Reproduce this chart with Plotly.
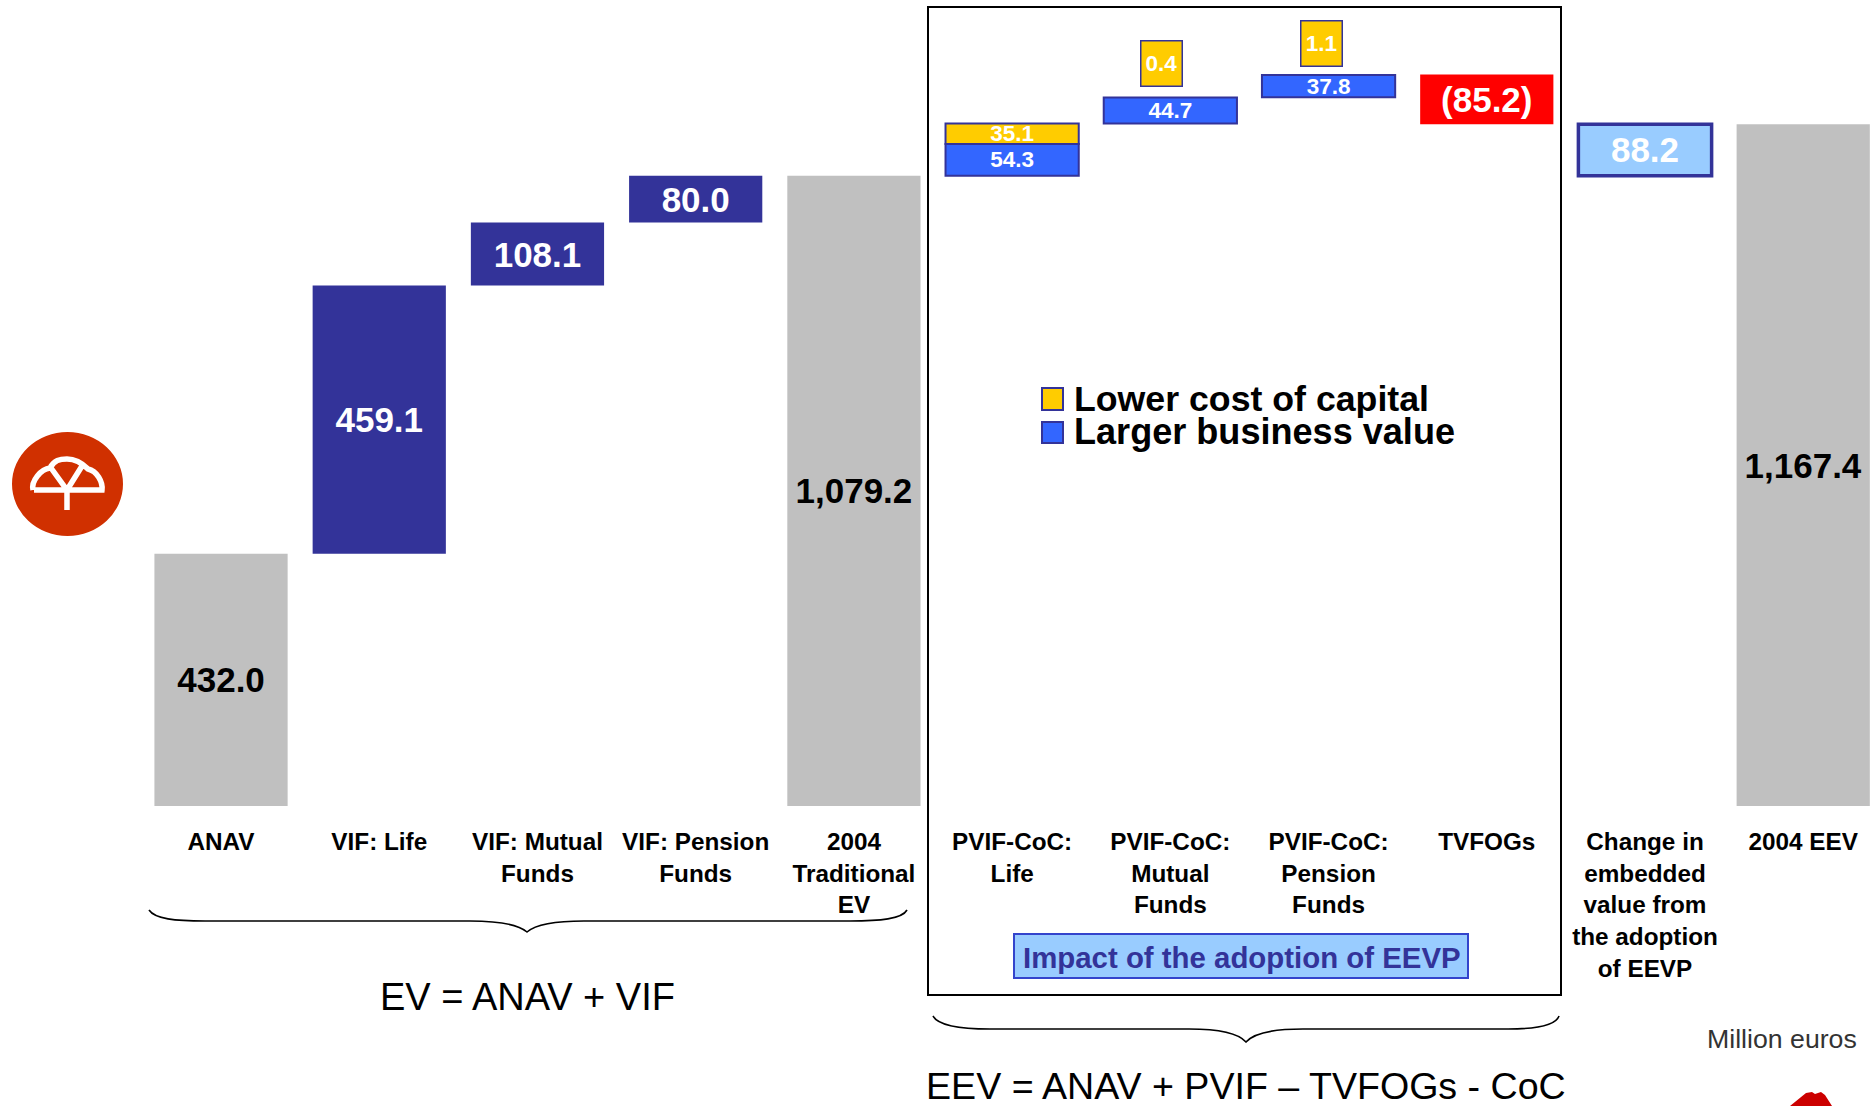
import plotly.graph_objects as go

# Embedded value bridge, million euros
categories = [
    "ANAV", "VIF: Life", "VIF: Mutual<br>Funds", "VIF: Pension<br>Funds",
    "2004<br>Traditional<br>EV", "PVIF-CoC:<br>Life", "PVIF-CoC:<br>Mutual<br>Funds",
    "PVIF-CoC:<br>Pension<br>Funds", "TVFOGs", "Change in<br>embedded<br>value from<br>the adoption<br>of EEVP",
    "2004 EEV",
]

total_cats = [categories[0], categories[4], categories[10]]
total_vals = [432.0, 1079.2, 1167.4]

vif_cats = categories[1:4]
vif_vals = [459.1, 108.1, 80.0]
vif_base = [432.0, 891.1, 999.2]

business_cats = categories[5:8]
business_vals = [54.3, 44.7, 37.8]
business_base = [1079.2, 1168.6, 1213.7]

coc_cats = categories[5:8]
coc_vals = [35.1, 0.4, 1.1]
coc_base = [1133.5, 1213.3, 1251.5]

tvfog_val = 85.2
tvfog_base = 1167.4

change_val = 88.2
change_base = 1079.2

W, H = 1876, 1106
NAVY, BLUE, GOLD, GREY, RED, SKY = "#333399", "#3366FF", "#FFCC00", "#C0C0C0", "#FF0000", "#99CCFF"
FONT = "Liberation Sans"


def px(x):
    return x / W


def py(y):
    return 1 - y / H


def bar(cats, vals, base, fill, text, text_color, size, line_color=None, line_width=0):
    return go.Bar(
        x=cats, y=vals, base=base, width=0.842, text=text,
        textposition="inside", insidetextanchor="middle", constraintext="none",
        textangle=0, cliponaxis=False, showlegend=False, hoverinfo="skip",
        textfont=dict(family=FONT, size=size, color=text_color, weight=700),
        marker=dict(color=fill, line=dict(color=line_color or fill, width=line_width)),
    )


fig = go.Figure()
fig.add_trace(bar(total_cats, total_vals, [0, 0, 0], GREY,
                  ["432.0", "1,079.2", "1,167.4"], "black", 35))
fig.add_trace(bar(vif_cats, vif_vals, vif_base, NAVY,
                  ["459.1", "108.1", "80.0"], "white", 35))
fig.add_trace(bar(coc_cats, coc_vals, coc_base, GOLD,
                  ["35.1", "", ""], "white", 22.5, NAVY, [2, 0, 0]))
fig.add_trace(bar(business_cats, business_vals, business_base, BLUE,
                  ["54.3", "44.7", "37.8"], "white", 22.5, NAVY, 2))
fig.add_trace(bar([categories[8]], [tvfog_val], [tvfog_base], RED, ["(85.2)"], "white", 35))
fig.add_trace(bar([categories[9]], [change_val], [change_base], SKY, ["88.2"], "white", 35, NAVY, 3.5))

shapes = []


def paper_path(points):
    # points: list of (command, px, py, ...) in figure pixels
    out = []
    for cmd, *vals in points:
        coords = [f"{px(vals[i]):.5f},{py(vals[i + 1]):.5f}" for i in range(0, len(vals), 2)]
        out.append(cmd + " " + " ".join(coords))
    return " ".join(out)


def add_path(points, line=None, fill=None, width=2):
    shapes.append(dict(
        type="path", xref="paper", yref="paper", layer="above",
        path=paper_path(points),
        line=dict(color=line or "rgba(0,0,0,0)", width=width if line else 0),
        fillcolor=fill or "rgba(0,0,0,0)",
    ))


def add_rect(x0, y0, x1, y1, fill=None, line=None, width=1, kind="rect"):
    shapes.append(dict(
        type=kind, xref="paper", yref="paper", layer="above",
        x0=px(x0), x1=px(x1), y0=py(y0), y1=py(y1),
        fillcolor=fill or "rgba(0,0,0,0)",
        line=dict(color=line or "rgba(0,0,0,0)", width=width if line else 0),
    ))


# Frame around the EEVP adoption steps
add_rect(928, 7, 1561, 995, line="black", width=2)
# Caption box for the framed steps
add_rect(1014, 934, 1468, 978, fill=SKY, line="#3344CC", width=2)
# Legend swatches
add_rect(1042, 388, 1063, 410, fill=GOLD, line=NAVY, width=2)
add_rect(1042, 422, 1063, 443, fill=BLUE, line=NAVY, width=2)

# Braces below the axis labels
add_path([("M", 149, 910), ("C", 155, 919, 175, 921, 205, 921), ("L", 470, 921),
          ("C", 505, 921, 520, 926, 527, 932), ("C", 534, 926, 549, 921, 584, 921),
          ("L", 850, 921), ("C", 880, 921, 902, 919, 907, 910)], line="black", width=1.6)
add_path([("M", 933, 1016), ("C", 938, 1025, 958, 1029, 990, 1029), ("L", 1189, 1029),
          ("C", 1224, 1029, 1239, 1034, 1246, 1042), ("C", 1253, 1034, 1268, 1029, 1303, 1029),
          ("L", 1508, 1029), ("C", 1538, 1029, 1556, 1025, 1559, 1016)], line="black", width=1.6)

# Company emblem: red disc with a white umbrella
add_rect(12, 432, 123, 536, fill="#D03000", kind="circle")
add_path([("M", 67, 510), ("L", 67, 490), ("M", 34, 490), ("L", 102, 490),
          ("C", 103, 482, 97, 471, 88, 469), ("C", 82, 463, 74, 459, 67, 459),
          ("C", 60, 459, 54, 460, 50, 468), ("C", 41, 469, 31, 481, 33, 490),
          ("M", 51, 468), ("L", 67, 490), ("L", 82, 466)], line="white", width=5.5)
# Part of a second emblem running off the lower edge
add_path([("M", 1790, 1106), ("L", 1806, 1093), ("L", 1812, 1092), ("L", 1815, 1094), ("L", 1821, 1092),
          ("L", 1825, 1095), ("L", 1832, 1106), ("Z",)], fill="#CC0000")


def note(text, x, y, size, color="black", weight=400, xanchor="center", **kw):
    return dict(
        text=text, x=px(x), y=py(y), xref="paper", yref="paper", showarrow=False,
        xanchor=xanchor, yanchor="middle", align="center",
        font=dict(family=FONT, size=size, color=color, weight=weight), **kw,
    )


annotations = [
    # Callouts for the two steps too small to label inside their bars
    note("0.4", 1161, 63.5, 22.5, "white", 700, width=40, height=44, bgcolor=GOLD,
         bordercolor=NAVY, borderwidth=1.5, borderpad=0),
    note("1.1", 1321, 43.5, 22.5, "white", 700, width=40, height=44, bgcolor=GOLD,
         bordercolor=NAVY, borderwidth=1.5, borderpad=0),
    note("Lower cost of capital", 1072, 399, 35.7, "black", 700, xanchor="left"),
    note("Larger business value", 1072, 431.5, 36.1, "black", 700, xanchor="left"),
    note("Impact of the adoption of EEVP", 1241.5, 957, 29.4, NAVY, 700),
    note("EV = ANAV + VIF", 527, 997, 38),
    note("EEV = ANAV + PVIF \u2013 TVFOGs - CoC", 1246, 1085.5, 37.6),
    note("Million euros", 1859, 1039, 26.7, "#333333", xanchor="right"),
]

fig.update_layout(
    width=W, height=H, margin=dict(l=0, r=0, t=0, b=0, pad=0, autoexpand=False),
    paper_bgcolor="white", plot_bgcolor="white", barmode="overlay",
    shapes=shapes, annotations=annotations, showlegend=False,
    font=dict(family=FONT),
    xaxis=dict(
        type="category", categoryorder="array", categoryarray=categories,
        tickmode="array", tickvals=categories, ticktext=categories,
        range=[-1.397, 10.46], showgrid=False, zeroline=False, showline=False,
        ticks="outside", ticklen=14, tickcolor="rgba(0,0,0,0)", tickangle=0,
        tickfont=dict(family=FONT, size=24.3, color="black", weight=700), automargin=False,
    ),
    yaxis=dict(
        domain=[(H - 806) / H, 1], range=[0, 806 / 0.584], visible=False, fixedrange=True,
    ),
)

fig.write_html("out.html")
